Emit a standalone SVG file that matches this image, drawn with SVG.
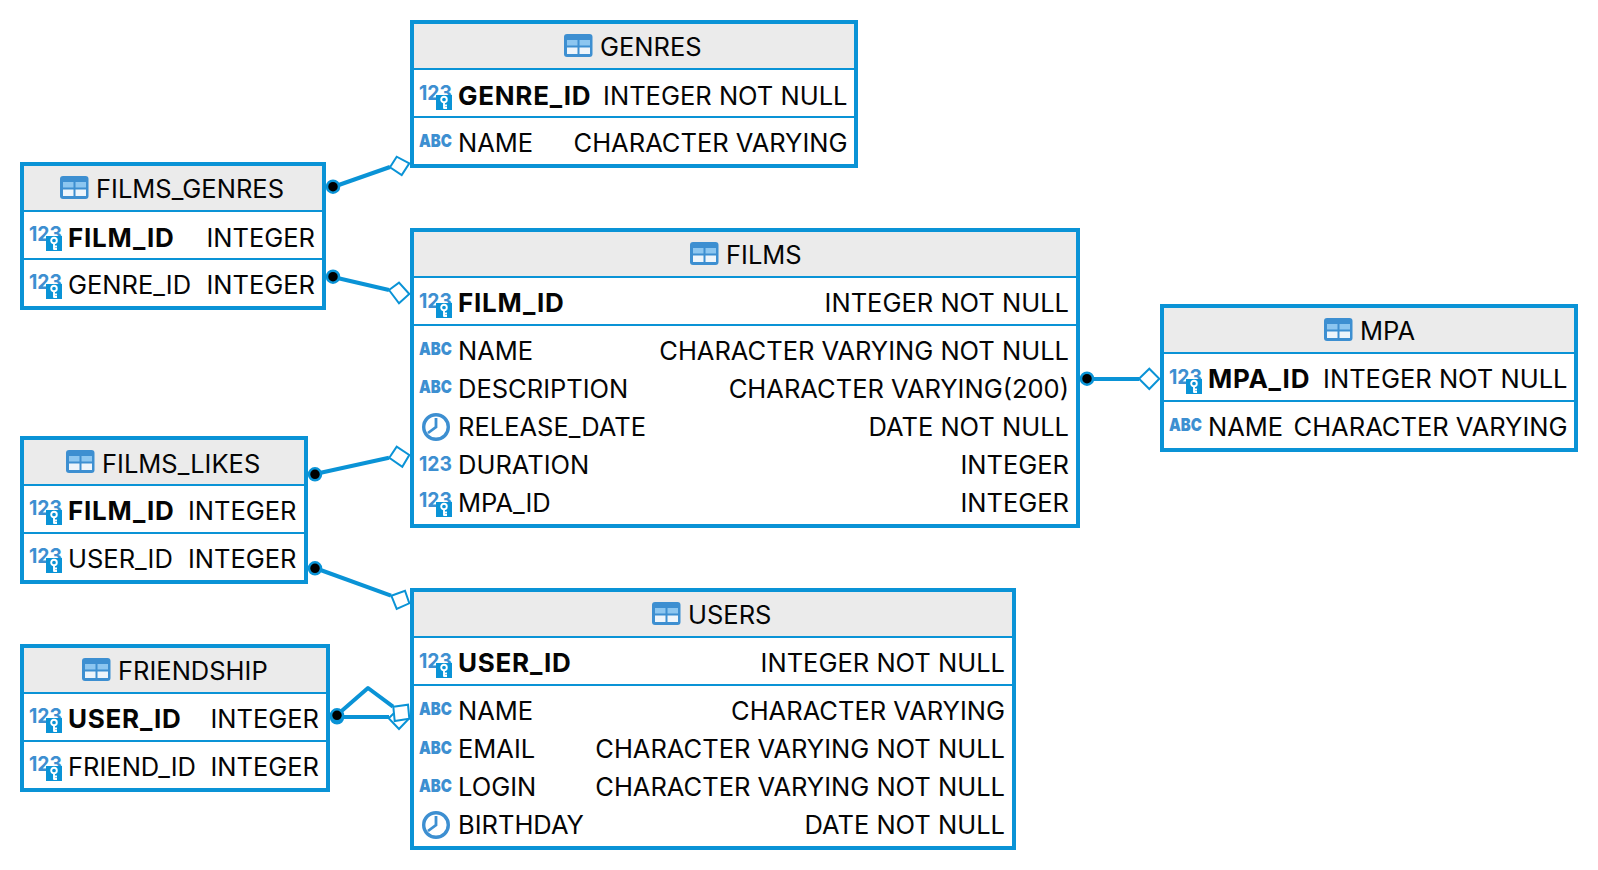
<svg xmlns="http://www.w3.org/2000/svg" width="1598" height="870" viewBox="0 0 1598 870">
<style>
.box{fill:#fff;stroke:#0a93d6;stroke-width:4}
.head{fill:#ebebeb}
.sep{stroke:#0a93d6;stroke-width:2}
text{font-family:Inter,"Liberation Sans",sans-serif;font-size:25.5px;fill:#050505}
.pk{font-weight:700;font-size:26px;letter-spacing:.75px}
.ty{text-anchor:end}
.n{font-size:20px;font-weight:700;fill:#3d8fd1}
.a{font-size:18px;font-weight:900;fill:#3d8fd1}
.c{fill:none;stroke:#0a93d6;stroke-width:4;stroke-linejoin:round}
.d{fill:#fff;stroke:#0a93d6;stroke-width:2}
.dot{fill:#000;stroke:#0a93d6;stroke-width:2.5}
</style>
<defs>
<g id="tbl"><rect width="28.5" height="23" rx="3" fill="#3d8fd1"/><rect x="3" y="6" width="10.5" height="5.5" fill="#8cc6f0"/><rect x="15.5" y="6" width="10.5" height="5.5" fill="#8cc6f0"/><rect x="3" y="13.5" width="10.5" height="6.5" fill="#eef5fb"/><rect x="15.5" y="13.5" width="10.5" height="6.5" fill="#eef5fb"/></g>
<g id="key"><rect width="16" height="15" fill="#0a93d6"/><circle cx="8" cy="4.5" r="2.8" fill="none" stroke="#fff" stroke-width="1.9"/><path d="M8 7.3v6.4M8 10.5h3M8 13h3" fill="none" stroke="#fff" stroke-width="1.9"/></g>
<g id="clk"><circle r="12.3" fill="none" stroke="#3d8fd1" stroke-width="3.4"/><path d="M0-9V0L-8 6" fill="none" stroke="#3d8fd1" stroke-width="2.8"/></g>
</defs>

<g id="connectors">
<path class="c" d="M333 187L390 167"/><polygon class="d" points="390,167.3 396.7,156.7 409.3,163.3 401.7,175"/><circle class="dot" cx="333" cy="186.7" r="6"/>
<path class="c" d="M333 277L389 290"/><polygon class="d" points="389,290 399,282.7 409.3,294 399,303.3"/><circle class="dot" cx="333" cy="276.7" r="6"/>
<path class="c" d="M315 474L389 457.7"/><polygon class="d" points="389.3,457.7 396.7,446.7 409.3,455 402.3,466.7"/><circle class="dot" cx="315" cy="474.3" r="6"/>
<path class="c" d="M315 568L391 595.7"/><polygon class="d" points="391.3,595.7 405,590.7 409.3,603.3 396.7,609"/><circle class="dot" cx="315" cy="568.3" r="6"/>
<circle class="dot" cx="337" cy="717.3" r="6"/>
<path class="c" d="M337 717H389"/><polygon class="d" points="388.7,718.3 399,708.3 409.3,718.3 399,729"/>
<path class="c" d="M337 715L368 688L393 706.7"/><polygon class="d" points="393.3,706.7 408,704.7 409.3,718.7 394.7,721"/><circle class="dot" cx="337" cy="715.3" r="6"/>
<path class="c" d="M1087 379H1139"/><polygon class="d" points="1139,378.7 1149.3,368.7 1159.3,378.7 1149.3,389"/><circle class="dot" cx="1087" cy="378.7" r="6"/>
</g>

<g id="genres">
<rect class="box" x="412" y="22" width="444" height="144"/><rect class="head" x="414" y="24" width="440" height="44"/>
<path class="sep" d="M412 69H856M412 117H856"/>
<use href="#tbl" x="564" y="34"/><text x="600" y="56">GENRES</text>
<text class="n" x="419" y="100" textLength="33" lengthAdjust="spacingAndGlyphs">123</text><use href="#key" x="436" y="95"/><text class="pk" x="458" y="105">GENRE_ID</text><text class="ty" x="847.5" y="105">INTEGER NOT NULL</text>
<text class="a" x="419" y="147" textLength="33" lengthAdjust="spacingAndGlyphs">ABC</text><text x="458" y="152">NAME</text><text class="ty" x="847.5" y="152">CHARACTER VARYING</text>
</g>

<g id="films-genres">
<rect class="box" x="22" y="164" width="302" height="144"/><rect class="head" x="24" y="166" width="298" height="44"/>
<path class="sep" d="M22 211H324M22 259H324"/>
<use href="#tbl" x="60" y="176"/><text x="96" y="198">FILMS_GENRES</text>
<text class="n" x="29" y="241" textLength="33" lengthAdjust="spacingAndGlyphs">123</text><use href="#key" x="46" y="236"/><text class="pk" x="68" y="246.5">FILM_ID</text><text class="ty" x="315" y="246.5">INTEGER</text>
<text class="n" x="29" y="289" textLength="33" lengthAdjust="spacingAndGlyphs">123</text><use href="#key" x="46" y="284"/><text x="68" y="294">GENRE_ID</text><text class="ty" x="315" y="294">INTEGER</text>
</g>

<g id="films">
<rect class="box" x="412" y="230" width="666" height="296"/><rect class="head" x="414" y="232" width="662" height="44"/>
<path class="sep" d="M412 277H1078M412 325H1078"/>
<use href="#tbl" x="690" y="242"/><text x="726" y="264">FILMS</text>
<text class="n" x="419" y="308" textLength="33" lengthAdjust="spacingAndGlyphs">123</text><use href="#key" x="436" y="303"/><text class="pk" x="458" y="312">FILM_ID</text><text class="ty" x="1069" y="312">INTEGER NOT NULL</text>
<text class="a" x="419" y="355" textLength="33" lengthAdjust="spacingAndGlyphs">ABC</text><text x="458" y="359.5">NAME</text><text class="ty" x="1069" y="359.5">CHARACTER VARYING NOT NULL</text>
<text class="a" x="419" y="393" textLength="33" lengthAdjust="spacingAndGlyphs">ABC</text><text x="458" y="397.5">DESCRIPTION</text><text class="ty" x="1069" y="397.5">CHARACTER VARYING(200)</text>
<use href="#clk" x="436" y="427"/><text x="458" y="435.5">RELEASE_DATE</text><text class="ty" x="1069" y="435.5">DATE NOT NULL</text>
<text class="n" x="419" y="471" textLength="33" lengthAdjust="spacingAndGlyphs">123</text><text x="458" y="473.5">DURATION</text><text class="ty" x="1069" y="473.5">INTEGER</text>
<text class="n" x="419" y="507" textLength="33" lengthAdjust="spacingAndGlyphs">123</text><use href="#key" x="436" y="502"/><text x="458" y="512">MPA_ID</text><text class="ty" x="1069" y="512">INTEGER</text>
</g>

<g id="mpa">
<rect class="box" x="1162" y="306" width="414" height="144"/><rect class="head" x="1164" y="308" width="410" height="44"/>
<path class="sep" d="M1162 353H1576M1162 401H1576"/>
<use href="#tbl" x="1324" y="318"/><text x="1360" y="340">MPA</text>
<text class="n" x="1169" y="384" textLength="33" lengthAdjust="spacingAndGlyphs">123</text><use href="#key" x="1186" y="379"/><text class="pk" x="1208" y="388">MPA_ID</text><text class="ty" x="1567.5" y="388">INTEGER NOT NULL</text>
<text class="a" x="1169" y="431" textLength="33" lengthAdjust="spacingAndGlyphs">ABC</text><text x="1208" y="436">NAME</text><text class="ty" x="1567.5" y="436">CHARACTER VARYING</text>
</g>

<g id="films-likes">
<rect class="box" x="22" y="438" width="284" height="144"/><rect class="head" x="24" y="440" width="280" height="44"/>
<path class="sep" d="M22 485H306M22 533H306"/>
<use href="#tbl" x="66" y="450"/><text x="102" y="472.5">FILMS_LIKES</text>
<text class="n" x="29" y="515" textLength="33" lengthAdjust="spacingAndGlyphs">123</text><use href="#key" x="46" y="510"/><text class="pk" x="68" y="519.5">FILM_ID</text><text class="ty" x="296.5" y="519.5">INTEGER</text>
<text class="n" x="29" y="563" textLength="33" lengthAdjust="spacingAndGlyphs">123</text><use href="#key" x="46" y="558"/><text x="68" y="567.5">USER_ID</text><text class="ty" x="296.5" y="567.5">INTEGER</text>
</g>

<g id="users">
<rect class="box" x="412" y="590" width="602" height="258"/><rect class="head" x="414" y="592" width="598" height="44"/>
<path class="sep" d="M412 637H1014M412 685H1014"/>
<use href="#tbl" x="652" y="602"/><text x="688" y="624">USERS</text>
<text class="n" x="419" y="668" textLength="33" lengthAdjust="spacingAndGlyphs">123</text><use href="#key" x="436" y="663"/><text class="pk" x="458" y="672">USER_ID</text><text class="ty" x="1005" y="672">INTEGER NOT NULL</text>
<text class="a" x="419" y="715" textLength="33" lengthAdjust="spacingAndGlyphs">ABC</text><text x="458" y="719.5">NAME</text><text class="ty" x="1005" y="719.5">CHARACTER VARYING</text>
<text class="a" x="419" y="754" textLength="33" lengthAdjust="spacingAndGlyphs">ABC</text><text x="458" y="758">EMAIL</text><text class="ty" x="1005" y="758">CHARACTER VARYING NOT NULL</text>
<text class="a" x="419" y="792" textLength="33" lengthAdjust="spacingAndGlyphs">ABC</text><text x="458" y="796">LOGIN</text><text class="ty" x="1005" y="796">CHARACTER VARYING NOT NULL</text>
<use href="#clk" x="436" y="825"/><text x="458" y="834">BIRTHDAY</text><text class="ty" x="1005" y="834">DATE NOT NULL</text>
</g>

<g id="friendship">
<rect class="box" x="22" y="646" width="306" height="144"/><rect class="head" x="24" y="648" width="302" height="44"/>
<path class="sep" d="M22 693H328M22 741H328"/>
<use href="#tbl" x="82" y="658"/><text x="118" y="679.5">FRIENDSHIP</text>
<text class="n" x="29" y="723" textLength="33" lengthAdjust="spacingAndGlyphs">123</text><use href="#key" x="46" y="718"/><text class="pk" x="68" y="728">USER_ID</text><text class="ty" x="319" y="728">INTEGER</text>
<text class="n" x="29" y="771" textLength="33" lengthAdjust="spacingAndGlyphs">123</text><use href="#key" x="46" y="766"/><text x="68" y="775.5">FRIEND_ID</text><text class="ty" x="319" y="775.5">INTEGER</text>
</g>
</svg>
